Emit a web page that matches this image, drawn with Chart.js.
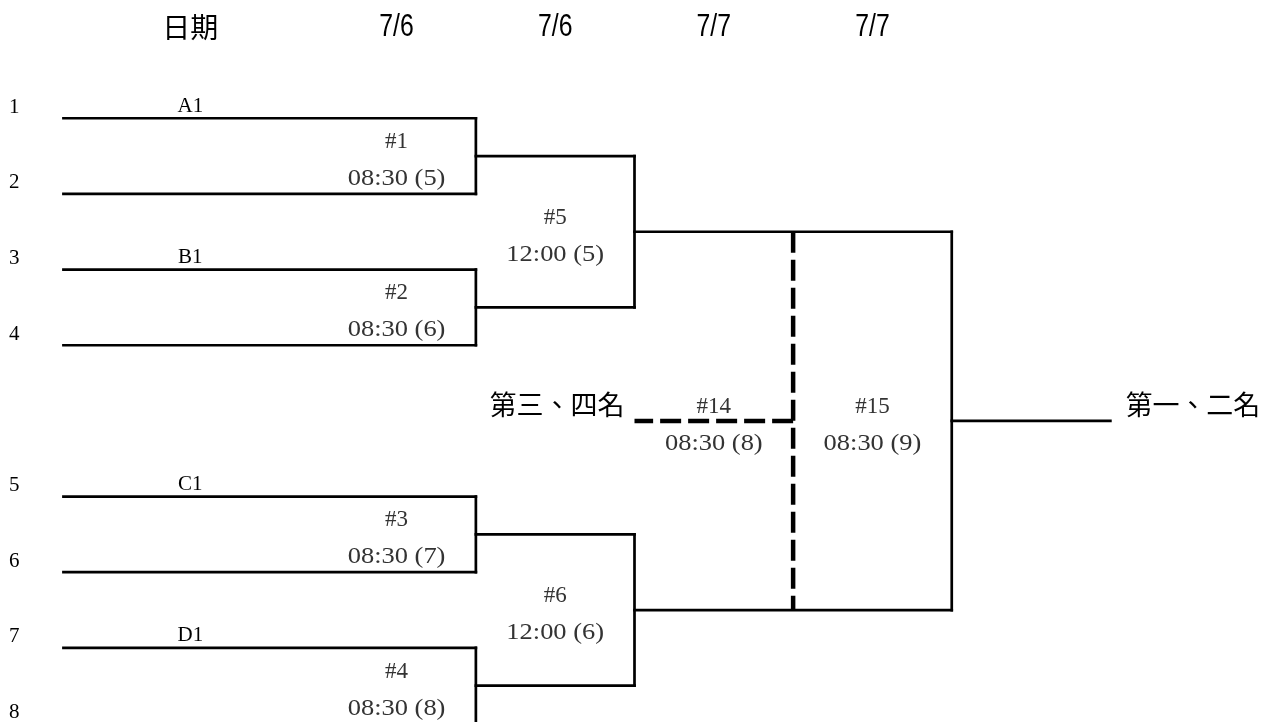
<!DOCTYPE html>
<html>
<head>
<meta charset="utf-8">
<script src="https://cdn.jsdelivr.net/npm/chart.js@4.4.1/dist/chart.umd.min.js"></script>
<style>
  html, body { margin: 0; padding: 0; background: #fff; }
  #wrap { width: 1269px; height: 722px; position: relative; }
</style>
</head>
<body>
<div id="wrap"><canvas id="bracket"></canvas></div>
<script>
// header row: first entry sits over the team column, the rest over rounds 1..4
const headerLabels = ["日期", "7/6", "7/6", "7/7", "7/7"];

// seeds (row 4 is the empty gap between the halves)
const seedNumbers = ["1", "2", "3", "4", "5", "6", "7", "8"];
const seedRows = [0, 1, 2, 3, 5, 6, 7, 8];
const seedTeams = ["A1", "", "B1", "", "C1", "", "D1", ""];

// matches
const matchIds = ["#1", "#2", "#3", "#4", "#5", "#6", "#14", "#15"];
const matchTimes = ["08:30 (5)", "08:30 (6)", "08:30 (7)", "08:30 (8)", "12:00 (5)", "12:00 (6)", "08:30 (8)", "08:30 (9)"];
const matchRounds = [1, 1, 1, 1, 2, 2, 3, 4];
const matchFeedA = ["s0", "s2", "s4", "s6", "#1", "#3", "#5", "#5"];
const matchFeedB = ["s1", "s3", "s5", "s7", "#2", "#4", "#6", "#6"];
const matchOutRounds = [2, 2, 2, 2, 4, 4, 2, 5];
const matchDashed = [false, false, false, false, false, false, true, false];

// final places
const placeLabels = ["第一、二名", "第三、四名"];
const placeMatches = ["#15", "#14"];

const SEED_START = -1.6;
const TEAM_COL = -0.8;
const NUM_COL = -1.91;

function rowOf(key) {
  if (key[0] === "s") return seedRows[Number(key.slice(1))];
  const i = matchIds.indexOf(key);
  return (rowOf(matchFeedA[i]) + rowOf(matchFeedB[i])) / 2;
}

function segment(x1, y1, x2, y2, dashed) {
  return {
    data: [{ x: x1, y: y1 }, { x: x2, y: y2 }],
    showLine: true,
    pointRadius: 0,
    borderColor: "#000",
    borderWidth: dashed ? 4.5 : 2.7,
    borderDash: dashed ? [21, 7] : [],
    borderCapStyle: dashed ? "butt" : "square",
    order: dashed ? 0 : 1,
  };
}

const datasets = [];
seedRows.forEach((r) => {
  datasets.push(segment(SEED_START, r, 1, r, false));
});
matchIds.forEach((id, i) => {
  const x = matchRounds[i];
  const ya = rowOf(matchFeedA[i]);
  const yb = rowOf(matchFeedB[i]);
  const mid = rowOf(id);
  datasets.push(segment(x, ya, x, yb, matchDashed[i]));
  datasets.push(segment(x, mid, matchOutRounds[i], mid, matchDashed[i]));
});

function drawText(ctx, text, x, y, font, color, align, scaleX) {
  ctx.save();
  ctx.font = font;
  ctx.fillStyle = color;
  ctx.textAlign = align || "center";
  ctx.textBaseline = "middle";
  ctx.translate(x, y);
  if (scaleX) ctx.scale(scaleX, 1);
  ctx.fillText(text, 0, 0);
  ctx.restore();
}

const labelPlugin = {
  id: "bracketLabels",
  afterDatasetsDraw(chart) {
    const { ctx, scales } = chart;
    const px = (v) => scales.x.getPixelForValue(v);
    const py = (v) => scales.y.getPixelForValue(v);
    const serif = '21px "Liberation Serif", "Times New Roman", serif';
    const small = '23px "Liberation Serif", "Times New Roman", serif';
    const cjk = '27px "Noto Sans CJK TC", "Noto Sans CJK SC", sans-serif';

    headerLabels.forEach((t, i) => {
      if (i === 0) {
        drawText(ctx, t, px(TEAM_COL), py(-1) - 15, '28px "Noto Sans CJK TC", sans-serif', "#000");
      } else {
        drawText(ctx, t, px(i - 0.5), py(-1) - 15, '31px "Liberation Sans", sans-serif', "#000", "center", 0.8);
      }
    });

    seedRows.forEach((r, i) => {
      drawText(ctx, seedNumbers[i], px(NUM_COL), py(r) - 11, serif, "#000");
      if (seedTeams[i]) drawText(ctx, seedTeams[i], px(TEAM_COL), py(r) - 12, serif, "#000");
    });

    matchIds.forEach((id, i) => {
      const x = px(matchRounds[i] - 0.5);
      const y = py(rowOf(id));
      drawText(ctx, id, x, y - 14, small, "#333");
      drawText(ctx, matchTimes[i], x, y + 23, small, "#333", "center", 1.15);
    });

    placeLabels.forEach((t, i) => {
      const m = matchIds.indexOf(placeMatches[i]);
      const y = py(rowOf(placeMatches[i])) - 16;
      const end = px(matchOutRounds[m]);
      if (matchOutRounds[m] > matchRounds[m]) {
        drawText(ctx, t, end + 15, y, cjk, "#000", "left");
      } else {
        drawText(ctx, t, end - 10, y, cjk, "#000", "right");
      }
    });
  },
};

new Chart(document.getElementById("bracket"), {
  type: "scatter",
  data: { datasets },
  options: {
    responsive: true,
    maintainAspectRatio: false,
    animation: false,
    events: [],
    layout: { padding: 0 },
    plugins: {
      legend: { display: false },
      tooltip: { enabled: false },
    },
    scales: {
      x: { type: "linear", display: false, min: -2, max: 6 },
      y: { type: "linear", display: false, reverse: true, min: -1.563, max: 7.98 },
    },
  },
  plugins: [labelPlugin],
});
</script>
</body>
</html>
